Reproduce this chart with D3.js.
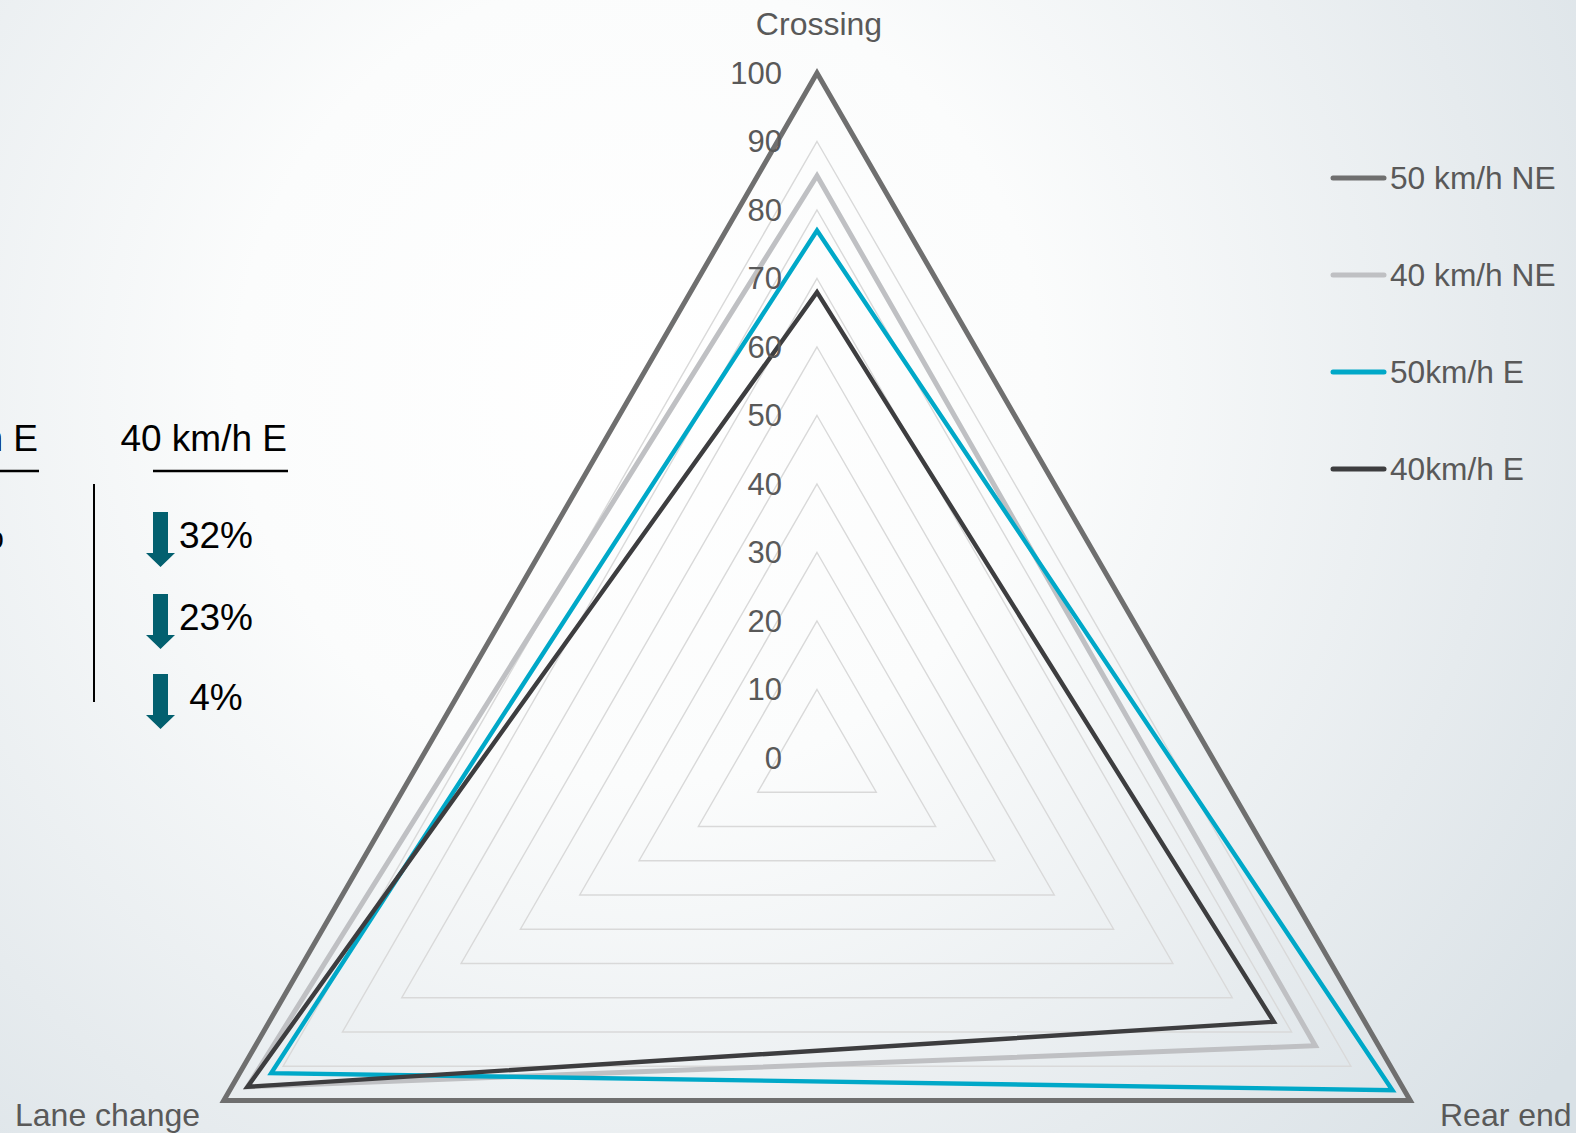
<!DOCTYPE html>
<html>
<head>
<meta charset="utf-8">
<script src="https://cdn.jsdelivr.net/npm/d3@7"></script>
<style>
  html, body { margin: 0; padding: 0; overflow: hidden; }
  svg { display: block; font-family: "Liberation Sans", Arial, sans-serif; }
</style>
</head>
<body>
<svg id="chart" width="1576" height="1133"></svg>
<script>
// Radar axes (clockwise from the top)
const categories = ["Crossing", "Rear end", "Lane change"];

// Series values per axis, in the order of `categories`
const seriesNames = ["50 km/h NE", "40 km/h NE", "50km/h E", "40km/h E"];
const values50NE = [100, 100, 100];
const values40NE = [85, 84, 96];
const values50E = [77, 97, 92];
const values40E = [68, 77, 96];

// Radial tick labels
const ticks = [0, 10, 20, 30, 40, 50, 60, 70, 80, 90, 100];

// Reduction table columns: header + series compared with the 50 km/h NE baseline
const tableHeaders = ["50 km/h E", "40 km/h E"];

const series = [
  { name: seriesNames[0], values: values50NE, color: "#6f6f6f", width: 5 },
  { name: seriesNames[1], values: values40NE, color: "#bfc0c3", width: 5 },
  { name: seriesNames[2], values: values50E, color: "#00a8c8", width: 4.4 },
  { name: seriesNames[3], values: values40E, color: "#3d3d3f", width: 4.4 }
];

const svg = d3.select("#chart");
const W = 1576, H = 1133;

// Background wash
const defs = svg.append("defs");
const bg = defs.append("radialGradient").attr("id", "bg")
  .attr("gradientUnits", "userSpaceOnUse")
  .attr("cx", 640).attr("cy", 380).attr("r", 1150);
bg.append("stop").attr("offset", 0).attr("stop-color", "#ffffff");
bg.append("stop").attr("offset", 0.35).attr("stop-color", "#fbfcfc");
bg.append("stop").attr("offset", 0.75).attr("stop-color", "#e6ebee");
bg.append("stop").attr("offset", 1).attr("stop-color", "#d9e1e6");
svg.append("rect").attr("width", W).attr("height", H).attr("fill", "url(#bg)");

// Radar geometry
const cx = 817, cy = 758, R = 685;
const r = d3.scaleLinear().domain([0, 100]).range([0, R]);
const angle = d3.scalePoint().domain(categories).range([0, 2 * Math.PI * (categories.length - 1) / categories.length]);

const radial = d3.lineRadial()
  .angle(d => d.angle)
  .radius(d => r(d.value))
  .curve(d3.curveLinearClosed);

const g = svg.append("g").attr("transform", `translate(${cx},${cy})`);

// Grid rings
g.append("g").selectAll("path")
  .data(ticks.filter(t => t > 0))
  .join("path")
  .attr("d", t => radial(categories.map(c => ({ angle: angle(c), value: t }))))
  .attr("fill", "none")
  .attr("stroke", "#d9d9d9")
  .attr("stroke-width", 1.4);

// Series polygons
g.append("g").selectAll("path")
  .data(series)
  .join("path")
  .attr("d", s => radial(categories.map((c, i) => ({ angle: angle(c), value: s.values[i] }))))
  .attr("fill", "none")
  .attr("stroke", s => s.color)
  .attr("stroke-width", s => s.width)
  .attr("stroke-linejoin", "miter");

// Radial tick labels
g.append("g").selectAll("text")
  .data(ticks)
  .join("text")
  .attr("x", -35)
  .attr("y", t => -r(t))
  .attr("dy", "0.35em")
  .attr("text-anchor", "end")
  .attr("font-size", 31)
  .attr("fill", "#595959")
  .text(t => t);

// Axis labels
const axisLabelPos = {
  "Crossing": { x: 819, y: 35, anchor: "middle" },
  "Rear end": { x: 1440, y: 1126, anchor: "start" },
  "Lane change": { x: 15, y: 1126, anchor: "start" }
};
svg.append("g").selectAll("text")
  .data(categories)
  .join("text")
  .attr("x", c => axisLabelPos[c].x)
  .attr("y", c => axisLabelPos[c].y)
  .attr("text-anchor", c => axisLabelPos[c].anchor)
  .attr("font-size", 32)
  .attr("fill", "#595959")
  .text(c => c);

// Legend
const legend = svg.append("g").attr("transform", "translate(1330,178)");
const legendStep = 97;
const li = legend.selectAll("g").data(series).join("g")
  .attr("transform", (d, i) => `translate(0,${i * legendStep})`);
li.append("line")
  .attr("x1", 3).attr("x2", 54).attr("y1", 0).attr("y2", 0)
  .attr("stroke", d => d.color)
  .attr("stroke-width", 5)
  .attr("stroke-linecap", "round");
li.append("text")
  .attr("x", 60).attr("y", 0).attr("dy", "0.35em")
  .attr("font-size", 31.7)
  .attr("fill", "#595959")
  .text(d => d.name);

// Reduction table (relative to the 50 km/h NE baseline)
const tableCols = [
  { header: tableHeaders[0], values: values50E, offset: -249 },
  { header: tableHeaders[1], values: values40E, offset: 0 }
];
const rowBaselines = [548, 630, 710];
const table = svg.append("g");

tableCols.forEach(col => {
  const cg = table.append("g").attr("transform", `translate(${col.offset},0)`);
  cg.append("text")
    .attr("x", 287).attr("y", 451)
    .attr("text-anchor", "end")
    .attr("font-size", 37)
    .attr("fill", "#000")
    .text(col.header);
  cg.append("line")
    .attr("x1", 153).attr("x2", 288).attr("y1", 471).attr("y2", 471)
    .attr("stroke", "#000").attr("stroke-width", 2.5);

  const rows = cg.selectAll("g.row")
    .data(col.values.map((v, i) => ({ v, base: values50NE[i], y: rowBaselines[i] })))
    .join("g").attr("class", "row");
  rows.append("path")
    .attr("d", d => {
      const top = d.y - 36, tip = d.y + 19, headTop = d.y + 5;
      const xc = 160.5;
      return `M${xc - 7.5},${top} L${xc + 7.5},${top} L${xc + 7.5},${headTop} L${xc + 14.5},${headTop} L${xc},${tip} L${xc - 14.5},${headTop} L${xc - 7.5},${headTop} Z`;
    })
    .attr("fill", "#03606f");
  rows.append("text")
    .attr("x", 216).attr("y", d => d.y)
    .attr("text-anchor", "middle")
    .attr("font-size", 37)
    .attr("fill", "#000")
    .text(d => `${Math.round(d.base - d.v)}%`);
});

// Column divider
table.append("line")
  .attr("x1", 94).attr("x2", 94).attr("y1", 484).attr("y2", 702)
  .attr("stroke", "#000").attr("stroke-width", 2);
</script>
</body>
</html>
